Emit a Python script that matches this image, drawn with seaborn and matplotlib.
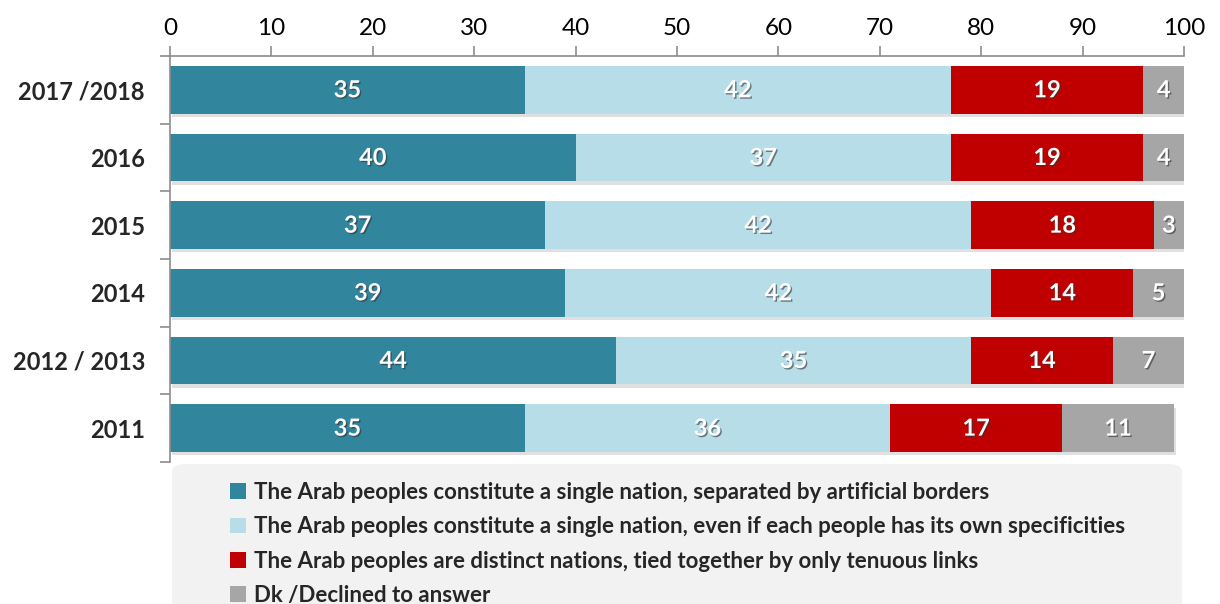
import matplotlib
matplotlib.use("Agg")
import matplotlib.pyplot as plt
import matplotlib.patheffects as pe
from matplotlib.patches import FancyBboxPatch, Patch
import numpy as np
import pandas as pd
import seaborn as sns

years = ["2017 /2018", "2016", "2015", "2014", "2012 / 2013", "2011"]
single_artificial = [35, 40, 37, 39, 44, 35]
single_specific = [42, 37, 42, 42, 35, 36]
distinct_nations = [19, 19, 18, 14, 14, 17]
declined = [4, 4, 3, 5, 7, 11]

series_names = [
    "The Arab peoples constitute a single nation, separated by artificial borders",
    "The Arab peoples constitute a single nation, even if each people has its own specificities",
    "The Arab peoples are distinct nations, tied together by only tenuous links",
    "Dk /Declined to answer",
]
series_values = [single_artificial, single_specific, distinct_nations, declined]
colors = ["#31859C", "#B7DEE8", "#C00000", "#A6A6A6"]
x_ticks = list(range(0, 101, 10))

sns.set_style("white")
plt.rcParams["font.family"] = ["Lato", "DejaVu Sans"]

fig = plt.figure(figsize=(12.2, 6.04), dpi=100)
ax = fig.add_axes([170 / 1220, 1 - 462 / 604, (1184 - 170) / 1220, (462 - 56) / 604])

df = pd.DataFrame({"year": years})
for name, vals in zip(series_names, series_values):
    df[name] = vals
cum = df[series_names].cumsum(axis=1)

# stacked bars: draw the cumulative totals from the outermost segment inwards
for name, color in reversed(list(zip(series_names, colors))):
    sns.barplot(x=cum[name], y=df["year"], orient="h", color=color, width=0.7,
                saturation=1, ax=ax, order=years)

n_rows = len(years)
shadow = [pe.SimplePatchShadow(offset=(1.5, -2.5), shadow_rgbFace="#000000", alpha=0.12), pe.Normal()]
for k, bar in enumerate(ax.patches):
    bar.set_edgecolor("none")
    if k < n_rows:
        bar.set_path_effects(shadow)

text_fx = [pe.withSimplePatchShadow(offset=(1, -1), shadow_rgbFace="#333333", alpha=0.6)]
for i, name in enumerate(series_names):
    start = cum[name] - df[name]
    for j, v in enumerate(df[name]):
        ax.text(start[j] + v / 2, j, f"{v}", ha="center", va="center", color="white",
                fontsize=17, fontweight="bold", path_effects=text_fx)

ax.set_xlim(0, 100)
ax.set_ylim(5.5, -0.5)
ax.set_xticks(x_ticks)
ax.xaxis.tick_top()
ax.tick_params(axis="x", which="both", top=True, bottom=False, length=7, width=1.2,
               color="#8C8C8C", labelsize=17.5, pad=5, labelcolor="#000000")
ax.set_yticks(np.arange(-0.5, 6, 1), minor=False)
ax.set_yticklabels([])
ax.set_yticks(np.arange(0, 6), minor=True)
ax.set_yticklabels(years, minor=True, fontsize=17, fontweight="bold")
ax.tick_params(axis="y", which="major", left=True, length=7, width=1.2, color="#8C8C8C")
ax.tick_params(axis="y", which="minor", left=False, length=0, pad=18)
ax.set_xlabel("")
ax.set_ylabel("")
for s in ["right", "bottom"]:
    ax.spines[s].set_visible(False)
for s in ["top", "left"]:
    ax.spines[s].set_color("#8C8C8C")
    ax.spines[s].set_linewidth(1.2)

# rounded legend panel beneath the bars
panel = FancyBboxPatch((172 / 1220, -0.05), (1182 - 172) / 1220, (604 - 464) / 604 + 0.05,
                       boxstyle="round,pad=0,rounding_size=0.012", transform=fig.transFigure,
                       facecolor="#F2F2F2", edgecolor="none", zorder=0)
fig.patches.append(panel)

handles = [Patch(facecolor=c, edgecolor="none") for c in colors]
fig.legend(handles, series_names, loc="upper left", bbox_to_anchor=(230 / 1220, 1 - 482 / 604),
           frameon=False, prop={"family": ["Lato", "DejaVu Sans"], "weight": "bold", "size": 16},
           handlelength=0.7, handleheight=0.7, handletextpad=0.4, labelspacing=0.6,
           borderaxespad=0, borderpad=0)

fig.savefig("out.png", dpi=100)
